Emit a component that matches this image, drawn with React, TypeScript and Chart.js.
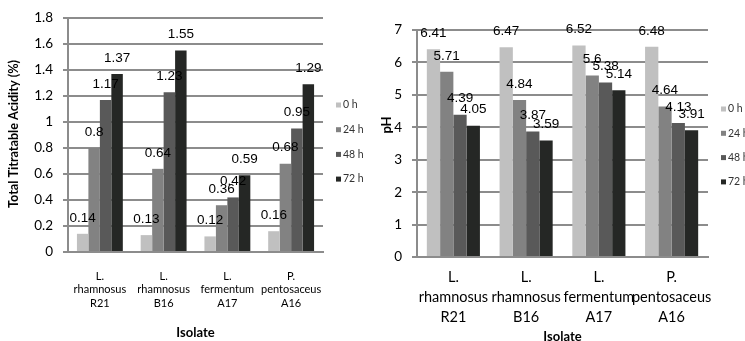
import React, { useEffect, useRef } from "react";
import { Chart, registerables } from "chart.js";

Chart.register(...registerables);

// ---- data ----
const categories: string[][] = [
  ["L.", "rhamnosus", "R21"],
  ["L.", "rhamnosus", "B16"],
  ["L.", "fermentum", "A17"],
  ["P.", "pentosaceus", "A16"],
];
const seriesLabels = ["0 h", "24 h", "48 h", "72 h"];
const seriesColors = ["#c0c0c0", "#828282", "#595959", "#252725"];

const acidity0h = [0.14, 0.13, 0.12, 0.16];
const acidity24h = [0.8, 0.64, 0.36, 0.68];
const acidity48h = [1.17, 1.23, 0.42, 0.95];
const acidity72h = [1.37, 1.55, 0.59, 1.29];

const ph0h = [6.41, 6.47, 6.52, 6.48];
const ph24h = [5.71, 4.84, 5.6, 4.64];
const ph48h = [4.39, 3.87, 5.38, 4.13];
const ph72h = [4.05, 3.59, 5.14, 3.91];

const acidityTicks = ["0", "0.2", "0.4", "0.6", "0.8", "1", "1.2", "1.4", "1.6", "1.8"];
const phTicks = ["0", "1", "2", "3", "4", "5", "6", "7"];

const acidityTitle = "Total Titratable Acidity (%)";
const phTitle = "pH";
const xTitle = "Isolate";

// ---- plugins ----
const dataLabelsPlugin = {
  id: "dataLabels",
  afterDatasetsDraw(chart: any, _args: any, opts: any) {
    const ctx = chart.ctx;
    ctx.save();
    ctx.font = opts.font;
    ctx.fillStyle = opts.color;
    ctx.textAlign = "center";
    ctx.textBaseline = "middle";
    chart.data.datasets.forEach((ds: any, i: number) => {
      const meta = chart.getDatasetMeta(i);
      meta.data.forEach((el: any, j: number) => {
        ctx.fillText(String(ds.data[j]), el.x, el.y - opts.offset);
      });
    });
    ctx.restore();
  },
};

const sideLegendPlugin = {
  id: "sideLegend",
  afterDraw(chart: any, _args: any, opts: any) {
    const ctx = chart.ctx;
    ctx.save();
    ctx.font = opts.font;
    ctx.textBaseline = "middle";
    ctx.textAlign = "left";
    chart.data.datasets.forEach((ds: any, i: number) => {
      const y = opts.y + i * opts.spacing;
      ctx.fillStyle = ds.backgroundColor;
      ctx.fillRect(opts.x, y - opts.box / 2, opts.box, opts.box);
      ctx.fillStyle = opts.color;
      ctx.fillText(ds.label, opts.x + opts.box + opts.gap, y);
    });
    ctx.restore();
  },
};

const yTitlePlugin = {
  id: "yTitle",
  afterDraw(chart: any, _args: any, opts: any) {
    const ctx = chart.ctx;
    ctx.save();
    ctx.font = opts.font;
    ctx.fillStyle = opts.color;
    ctx.textAlign = "center";
    ctx.textBaseline = "middle";
    ctx.translate(opts.x, opts.y);
    ctx.rotate(-Math.PI / 2);
    if (opts.maxWidth) ctx.fillText(opts.text, 0, 0, opts.maxWidth);
    else ctx.fillText(opts.text, 0, 0);
    ctx.restore();
  },
};

type Cfg = {
  series: number[][];
  max: number;
  step: number;
  tickLabels: string[];
  yTitle: string;
  yTitleX: number;
  yTitleY: number;
  yTitleSize: number;
  yTitleMaxWidth: number;
  padTop: number;
  padRight: number;
  yWidth: number;
  xHeight: number;
  catPct: number;
  xFontSize: number;
  xLineHeight: number;
  xPad: number;
  xTitleSize: number;
  xTitleLH: number;
  legendX: number;
  legendY: number;
  legendSpacing: number;
};

const GRID = "#8c8c8c";

function makeConfig(c: Cfg): any {
  return {
    type: "bar",
    data: {
      labels: categories,
      datasets: c.series.map((d, i) => ({
        label: seriesLabels[i],
        data: d,
        backgroundColor: seriesColors[i],
        borderWidth: 0,
        categoryPercentage: c.catPct,
        barPercentage: 1,
      })),
    },
    options: {
      animation: false,
      responsive: false,
      devicePixelRatio: 1,
      layout: { padding: { left: 0, top: c.padTop, right: c.padRight, bottom: 0 } },
      plugins: {
        legend: { display: false },
        tooltip: { enabled: false },
        dataLabels: { font: "13.5px 'Liberation Sans'", color: "#000", offset: 16 },
        sideLegend: {
          x: c.legendX,
          y: c.legendY,
          spacing: c.legendSpacing,
          box: 5,
          gap: 2,
          font: "10.5px Lato",
          color: "#333",
        },
        yTitle: {
          text: c.yTitle,
          x: c.yTitleX,
          y: c.yTitleY,
          font: `bold ${c.yTitleSize}px Lato`,
          color: "#000",
          maxWidth: c.yTitleMaxWidth,
        },
      },
      scales: {
        x: {
          grid: { display: false, drawTicks: false },
          border: { display: true, color: GRID, width: 2 },
          ticks: {
            font: { family: "Lato", size: c.xFontSize, lineHeight: c.xLineHeight },
            color: "#000",
            padding: c.xPad,
            maxRotation: 0,
            autoSkip: false,
          },
          title: {
            display: true,
            text: xTitle,
            font: { family: "Lato", size: c.xTitleSize, weight: "bold", lineHeight: c.xTitleLH },
            color: "#000",
            padding: 0,
          },
          afterFit: (s: any) => {
            s.height = c.xHeight;
          },
        },
        y: {
          min: 0,
          max: c.max,
          ticks: {
            stepSize: c.step,
            font: { family: "Lato", size: 13.5 },
            color: "#000",
            padding: 10,
            callback: (_v: any, i: number) => c.tickLabels[i],
          },
          grid: { color: GRID, lineWidth: 2, tickLength: 5, drawTicks: true },
          border: { display: true, color: GRID, width: 2 },
          afterFit: (s: any) => {
            s.width = c.yWidth;
          },
        },
      },
    },
    plugins: [dataLabelsPlugin, sideLegendPlugin, yTitlePlugin],
  };
}

const leftCfg: Cfg = {
  series: [acidity0h, acidity24h, acidity48h, acidity72h],
  max: 1.8,
  step: 0.2,
  tickLabels: acidityTicks,
  yTitle: acidityTitle,
  yTitleX: 14,
  yTitleY: 134,
  yTitleSize: 13,
  yTitleMaxWidth: 148,
  padTop: 16,
  padRight: 47,
  yWidth: 68,
  xHeight: 89,
  catPct: 0.72,
  xFontSize: 11,
  xLineHeight: 1.2,
  xPad: 18,
  xTitleSize: 13,
  xTitleLH: 1.2,
  legendX: 336,
  legendY: 105,
  legendSpacing: 24.7,
};

const rightCfg: Cfg = {
  series: [ph0h, ph24h, ph48h, ph72h],
  max: 7,
  step: 1,
  tickLabels: phTicks,
  yTitle: phTitle,
  yTitleX: 17,
  yTitleY: 125,
  yTitleSize: 13,
  yTitleMaxWidth: 0,
  padTop: 30,
  padRight: 37,
  yWidth: 47,
  xHeight: 84,
  catPct: 0.73,
  xFontSize: 14.5,
  xLineHeight: 1.38,
  xPad: 10,
  xTitleSize: 13,
  xTitleLH: 0.6,
  legendX: 351,
  legendY: 109,
  legendSpacing: 24.3,
};

function BarChart({ cfg, width, height, left }: { cfg: Cfg; width: number; height: number; left: number }) {
  const ref = useRef<HTMLCanvasElement | null>(null);
  useEffect(() => {
    if (!ref.current) return;
    const chart = new Chart(ref.current, makeConfig(cfg));
    return () => chart.destroy();
  }, [cfg]);
  return (
    <canvas
      ref={ref}
      width={width}
      height={height}
      style={{ position: "absolute", left, top: 0, width, height }}
    />
  );
}

export default function App() {
  return (
    <div
      style={{
        position: "absolute",
        left: 0,
        top: 0,
        width: 745,
        height: 341,
        background: "#ffffff",
        overflow: "hidden",
      }}
    >
      <BarChart cfg={leftCfg} width={370} height={341} left={0} />
      <BarChart cfg={rightCfg} width={375} height={341} left={370} />
    </div>
  );
}
